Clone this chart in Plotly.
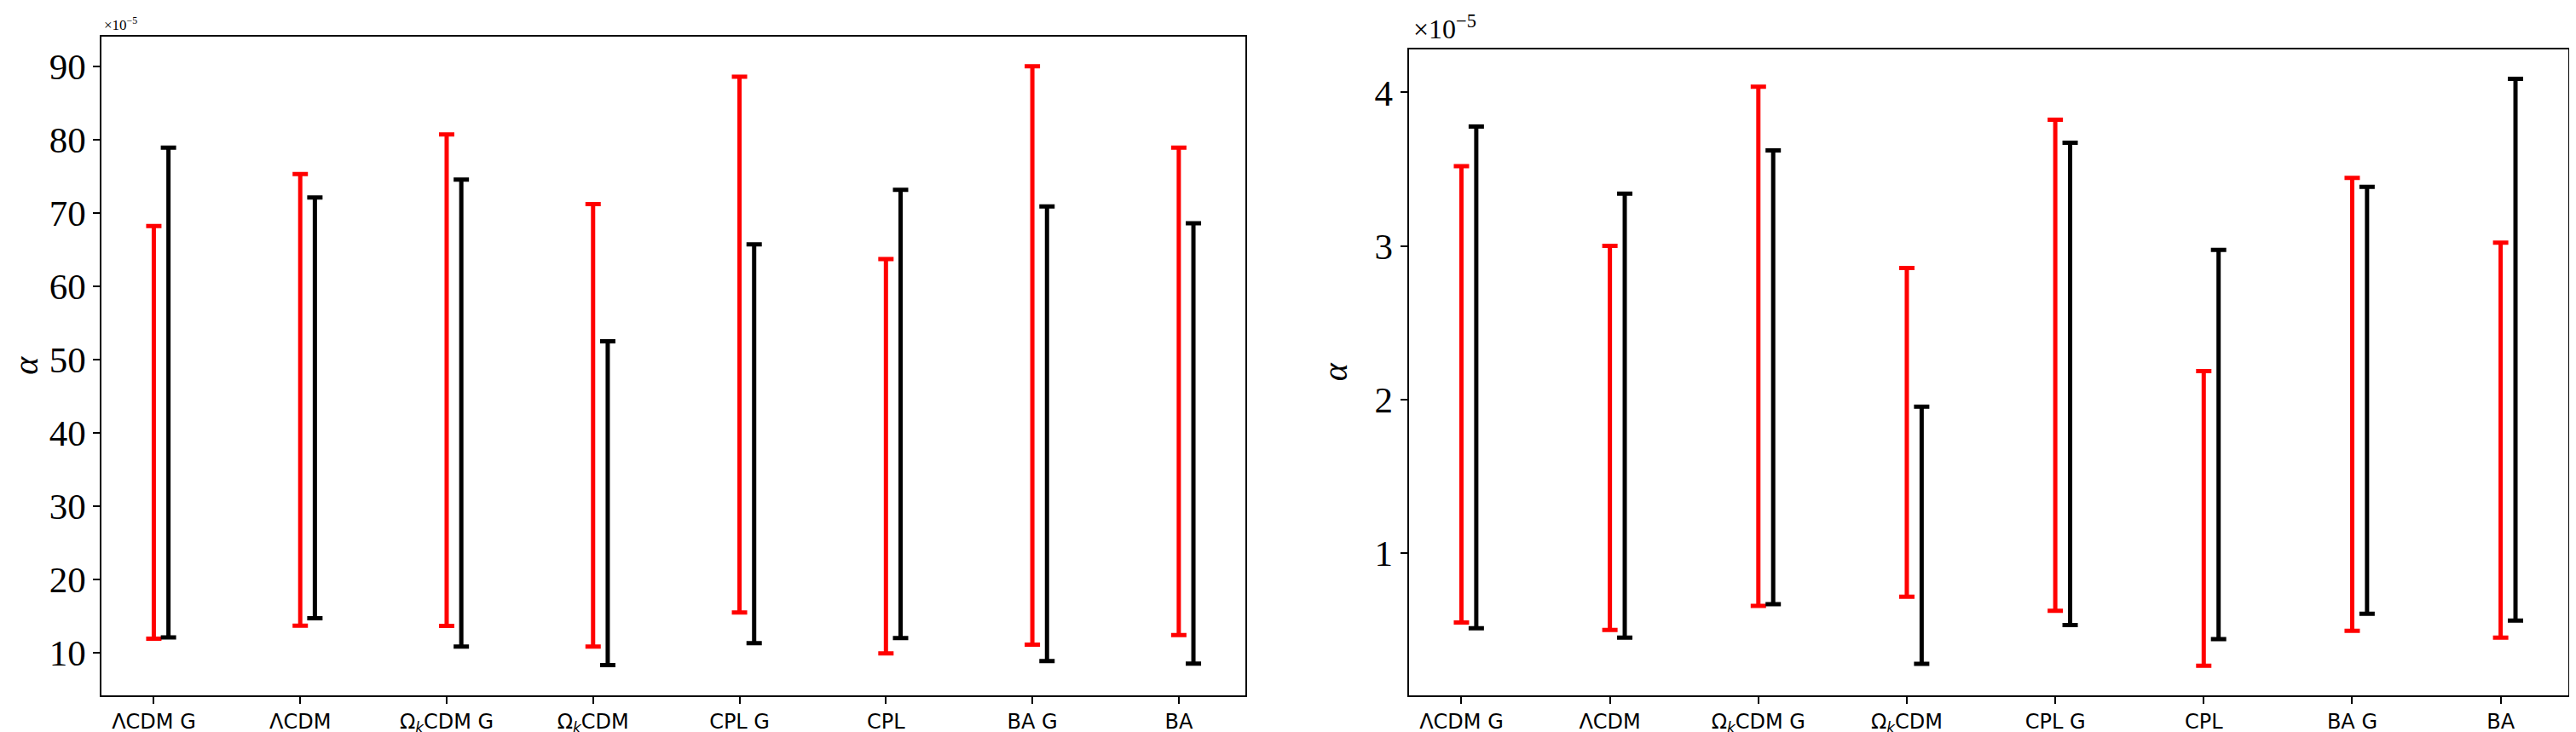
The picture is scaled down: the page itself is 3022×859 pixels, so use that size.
import plotly.graph_objects as go

# Values are in units of 1e-5
categories = ["ΛCDM G", "ΛCDM", "Ω<sub><i>k</i></sub>CDM G", "Ω<sub><i>k</i></sub>CDM",
              "CPL G", "CPL", "BA G", "BA"]

left_red_low = [11.9, 13.7, 13.65, 10.85, 15.5, 9.9, 11.1, 12.4]
left_red_high = [68.2, 75.3, 80.7, 71.2, 88.6, 63.7, 90.0, 78.9]
left_black_low = [12.1, 14.7, 10.85, 8.3, 11.3, 12.0, 8.85, 8.5]
left_black_high = [78.9, 72.1, 74.55, 52.5, 65.7, 73.15, 70.9, 68.6]

right_red_low = [0.545, 0.497, 0.654, 0.713, 0.621, 0.263, 0.491, 0.447]
right_red_high = [3.52, 3.0, 4.037, 2.856, 3.822, 2.183, 3.443, 3.021]
right_black_low = [0.508, 0.447, 0.665, 0.275, 0.528, 0.436, 0.602, 0.558]
right_black_high = [3.778, 3.34, 3.622, 1.951, 3.672, 2.973, 3.384, 4.089]

left_yticks = [10, 20, 30, 40, 50, 60, 70, 80, 90]
right_yticks = [1, 2, 3, 4]

OFFSET = 0.1
W, H = 3022, 859

x_red = list(range(len(categories)))
x_black = [i + OFFSET for i in x_red]

fig = go.Figure()


def add(xa, ya, x, low, high, color):
    mid = [(l + h) / 2 for l, h in zip(low, high)]
    fig.add_trace(go.Scatter(
        x=x, y=mid, mode="markers",
        marker=dict(color="rgba(0,0,0,0)", size=1),
        error_y=dict(type="data", symmetric=False,
                     array=[h - m for h, m in zip(high, mid)],
                     arrayminus=[m - l for m, l in zip(mid, low)],
                     color=color, thickness=5, width=9),
        xaxis=xa, yaxis=ya, showlegend=False, hoverinfo="skip"))


add("x", "y", x_red, left_red_low, left_red_high, "#ff0000")
add("x", "y", x_black, left_black_low, left_black_high, "#000000")
add("x2", "y2", x_red, right_red_low, right_red_high, "#ff0000")
add("x2", "y2", x_black, right_black_low, right_black_high, "#000000")


def rng(lows, highs):
    lo = min(min(l) for l in lows)
    hi = max(max(h) for h in highs)
    r = hi - lo
    return [lo - 0.05 * r, hi + 0.05 * r]


xr = [0 - 0.05 * (x_black[-1] - 0), x_black[-1] + 0.05 * (x_black[-1] - 0)]

axis_common = dict(showline=True, mirror=True, linecolor="black", linewidth=2,
                   ticks="outside", ticklen=8, tickwidth=2, tickcolor="black",
                   showgrid=False, zeroline=False)

xfont = dict(family="DejaVu Sans", size=24, color="black")
yfont = dict(family="Liberation Serif", size=43, color="black")
tfont = dict(family="Liberation Serif", size=40, color="black")

fig.update_layout(
    width=W, height=H,
    margin=dict(l=0, r=0, t=0, b=0),
    paper_bgcolor="white", plot_bgcolor="white",
    xaxis=dict(domain=[0.0324, 0.4784], range=xr, tickvals=x_red, ticktext=categories,
               tickfont=xfont, anchor="y", **axis_common),
    yaxis=dict(domain=[0.0597, 0.9596],
               range=rng([left_red_low, left_black_low], [left_red_high, left_black_high]),
               tickvals=left_yticks, tickfont=yfont, anchor="x",
               title=dict(text="<i>α</i>", font=tfont, standoff=22), **axis_common),
    xaxis2=dict(domain=[0.5421, 0.9943], range=xr, tickvals=x_red, ticktext=categories,
                tickfont=xfont, anchor="y2", **axis_common),
    yaxis2=dict(domain=[0.0597, 0.9418],
                range=rng([right_red_low, right_black_low], [right_red_high, right_black_high]),
                tickvals=right_yticks, tickfont=yfont, anchor="x2",
                title=dict(text="<i>α</i>", font=tfont, standoff=20), **axis_common),
)

fig.add_annotation(text="×10<sup>−5</sup>", xref="paper", yref="paper",
                   x=0.0326, y=0.962, xanchor="left", yanchor="bottom", showarrow=False,
                   font=dict(family="Liberation Serif", size=17, color="black"))
fig.add_annotation(text="×10<sup>−5</sup>", xref="paper", yref="paper",
                   x=0.5432, y=0.946, xanchor="left", yanchor="bottom", showarrow=False,
                   font=dict(family="Liberation Serif", size=32, color="black"))

fig.write_html("out.html")
